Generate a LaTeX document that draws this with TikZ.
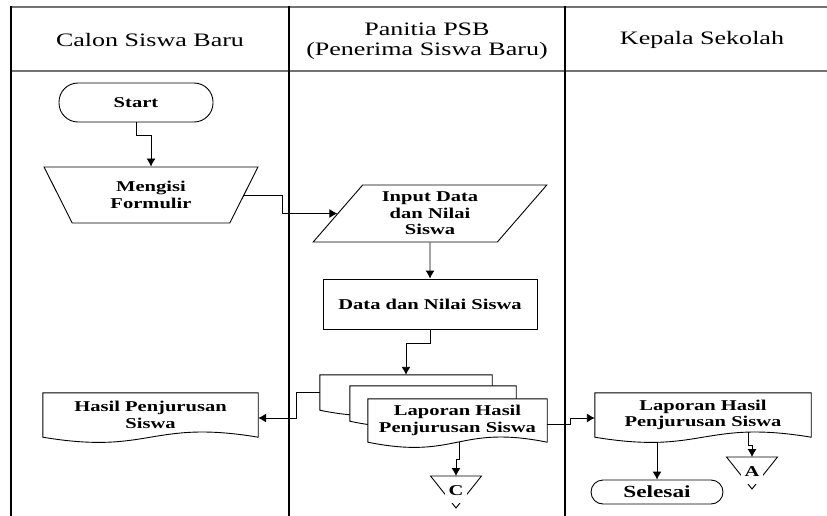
\documentclass[tikz,border=0pt]{standalone}
\usepackage{fontspec}
\setmainfont{Liberation Serif}[FakeStretch=1.37]
\usetikzlibrary{shapes.geometric,arrows.meta,calc}
\pgfdeclarelayer{bawah}
\pgfsetlayers{bawah,main}
\tikzset{
  garisjudul/.style={line width=1.8pt, black!55},
  lajur/.style={line width=1.4pt},
  garis/.style={line width=0.9pt},
  panah/.style={garis, ->},
  judul/.style={font=\fontsize{19}{20.5}\selectfont, align=center},
  isi/.style={font=\fontsize{15}{16.5}\selectfont\bfseries, align=center, inner sep=0pt},
  terminal/.style={isi, draw, garis, rounded corners=19pt, minimum width=154pt, minimum height=39pt}
}
\newcommand{\dokumen}[1]{%
  \begin{pgfonlayer}{bawah}
  \draw[garis, fill=white] (#1.south west) -- (#1.north west) -- (#1.north east) -- (#1.south east)
    .. controls ($(#1.south)+(0,-18)$) and ($(#1.south)+(0,18)$) .. (#1.south west) -- cycle;
  \end{pgfonlayer}}
\newcommand{\halaman}[3]{%
  \draw[garis] ($(#1)+(-25.5,0)$) -- ($(#1)+(25.5,0)$) -- ($(#1)+(0,32)$) -- cycle;
  \node[isi, fill=white, minimum width=22pt, minimum height=23pt] (#2) at ($(#1)+(0,15)$) {#3};}

\begin{document}
\begin{tikzpicture}[x=1pt, y=-1pt, >={Latex[length=8pt,width=9pt]}]
\useasboundingbox (0,0) rectangle (827,516);
\begin{pgfonlayer}{bawah}
\draw [garisjudul] (11,7) -- (827,7);
\draw [garisjudul] (11,71) -- (827,71);
\draw [lajur] (11,6) -- (11,516);
\draw [lajur] (289,6) -- (289,516);
\draw [lajur] (565,6) -- (565,516);
\end{pgfonlayer}
\node[judul] (calon) at (150,40) {Calon Siswa Baru};
\node[judul] (panitia) at (427,41) {Panitia PSB\\(Penerima Siswa Baru)};
\node[judul] (kepsek) at (702,40) {Kepala Sekolah};

\node[terminal] (start) at (136,102.5) {Start};
\node[isi, draw, garis, trapezium, trapezium left angle=62, trapezium right angle=62,
  shape border rotate=180, trapezium stretches=true, minimum width=214pt, minimum height=56pt]
  (isian) at (151,195) {Mengisi\\Formulir};
\node[isi, draw, garis, trapezium, trapezium left angle=50.5, trapezium right angle=129.5,
  trapezium stretches=true, minimum width=234pt, minimum height=57pt]
  (input) at (430,213.5) {Input Data\\dan Nilai\\Siswa};
\node[isi, draw, garis, minimum width=214pt, minimum height=50pt] (data) at (430,304) {Data dan Nilai Siswa};

\node[isi, minimum width=172pt, minimum height=35pt] (lap1) at (406,392.5) {};
\node[isi, minimum width=166pt, minimum height=35pt] (lap2) at (433,403.5) {};
\node[isi, minimum width=179pt, minimum height=43pt] (lap3) at (457.5,420.5) {Laporan Hasil\\Penjurusan Siswa};
\dokumen{lap1}
\dokumen{lap2}
\dokumen{lap3}
\node[isi, minimum width=215pt, minimum height=44pt] (hasil) at (150.5,415) {Hasil Penjurusan\\Siswa};
\dokumen{hasil}
\node[isi, minimum width=216pt, minimum height=44pt] (laporan) at (703,415) {Laporan Hasil\\Penjurusan Siswa};
\dokumen{laporan}
\node[terminal, font=\fontsize{17}{18}\selectfont\bfseries, minimum width=132pt, minimum height=24pt,
  rounded corners=12pt] (selesai) at (657,492) {Selesai};

\draw[panah] (start.south) -- ++(0,13) -| (isian.north);
\draw[panah] (isian.east) -- ++(38,0) |- (input.west);
\draw[panah] (input) -- (data);
\draw[panah] (data.south) -- ++(0,14) -| (lap1.north);
\draw[panah] (lap1.west) -- ++(-23,0) |- ([yshift=-3pt]hasil.east);
\draw[panah] ([yshift=-4pt]lap3.east) -- ++(23,0) |- ([yshift=-3pt]laporan.west);
\coordinate (c) at (456,476);
\draw[panah] ($(lap3.south)+(1.5,0)$) -- ++(0,17) -| (c);
\halaman{c}{cteks}{C}
\coordinate (a) at (752,457);
\draw[panah] ($(laporan.south)+(45,-5)$) -- ++(0,13) -| (a);
\halaman{a}{ateks}{A}
\draw[panah] ([yshift=-5pt]laporan.south -| selesai.north) -- (selesai.north);
\end{tikzpicture}
\end{document}
